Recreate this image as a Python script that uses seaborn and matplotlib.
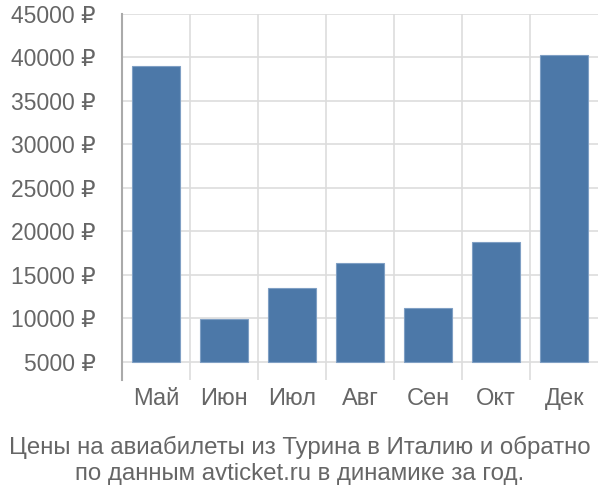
import pandas as pd
import numpy as np
import matplotlib
matplotlib.use("Agg")
import matplotlib.pyplot as plt
import seaborn as sns

# данные с графика
months = ["Май", "Июн", "Июл", "Авг", "Сен", "Окт", "Дек"]
prices = [39000, 9900, 13500, 16400, 11150, 18800, 40300]
yticks = [5000, 10000, 15000, 20000, 25000, 30000, 35000, 40000, 45000]
base = 5000

df = pd.DataFrame({"month": months, "price": prices})
df["h"] = df["price"] - base

sns.set_style("white")
plt.rcParams["font.family"] = ["Liberation Sans", "DejaVu Sans"]
text_c = "#666666"
grid_c = "#dddddd"

fig = plt.figure(figsize=(6, 5), dpi=100)
ax = fig.add_axes([0.203, 0.24, 0.794, 0.732])

sns.barplot(data=df, x="month", y="h", color="#4c78a8", saturation=1,
            width=0.71, bottom=base, edgecolor="#7f9fc4", linewidth=0.8,
            zorder=3, ax=ax)

ax.set_ylim(2930, 45000)
ax.set_xlim(-0.5, len(months) - 0.5)
ax.set_yticks(yticks)
ax.set_yticklabels([f"{v} ₽" for v in yticks])
ax.set_xticks(np.arange(len(months)) - 0.5, minor=True)
ax.grid(True, axis="y", color=grid_c, linewidth=1.2, zorder=0)
ax.grid(True, axis="x", which="minor", color=grid_c, linewidth=1.2, zorder=0)
ax.tick_params(axis="y", which="major", length=19, width=1.2, color=grid_c,
               labelsize=16.5, labelcolor=text_c, pad=0)
ax.tick_params(axis="x", which="major", length=0, labelsize=17,
               labelcolor=text_c, pad=6)
ax.tick_params(axis="x", which="minor", length=0)
for s in ["top", "right", "bottom"]:
    ax.spines[s].set_visible(False)
ax.spines["left"].set_color("#aaaaaa")
ax.spines["left"].set_linewidth(1.5)
ax.set_xlabel("")
ax.set_ylabel("")

fig.text(0.5, 0.079, "Цены на авиабилеты из Турина в Италию и обратно\n"
         "по данным avticket.ru в динамике за год.",
         ha="center", va="center", fontsize=17.3, color=text_c, linespacing=1.25)

fig.savefig("out.png", dpi=100)
